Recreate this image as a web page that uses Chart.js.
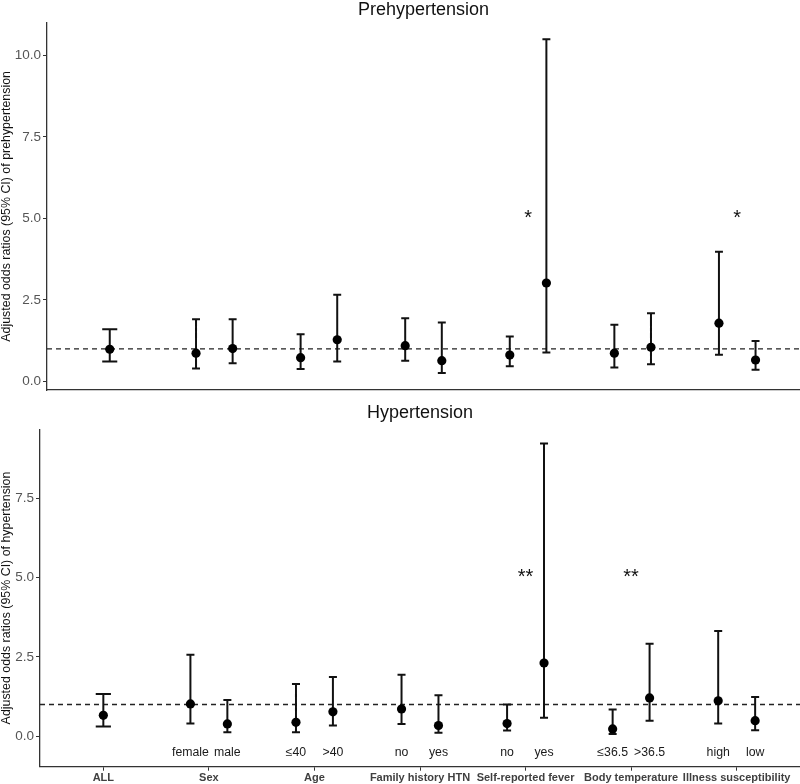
<!DOCTYPE html>
<html><head><meta charset="utf-8">
<script src="https://cdn.jsdelivr.net/npm/chart.js@4.4.1/dist/chart.umd.min.js"></script>
<style>
html,body{margin:0;padding:0;background:#fff;}
#wrap{position:relative;width:800px;height:784px;background:#fff;}
canvas{position:absolute;left:0;}
</style></head><body>
<div id="wrap">
<canvas id="c1" width="800" height="392" style="top:0px"></canvas>
<canvas id="c2" width="800" height="392" style="top:392px"></canvas>
</div>
<script>
// ---------- data ----------
const categories = ['ALL', 'Sex', 'Age', 'Family history HTN', 'Self-reported fever', 'Body temperature', 'Illness susceptibility'];
const groupIndex = [0, 1, 1, 2, 2, 3, 3, 4, 4, 5, 5, 6, 6];
const dodgeSide  = [0, -1, 1, -1, 1, -1, 1, -1, 1, -1, 1, -1, 1];
const subgroupLabels = ['', 'female', 'male', '≤40', '>40', 'no', 'yes', 'no', 'yes', '≤36.5', '>36.5', 'high', 'low'];

const preOR    = [0.99, 0.87, 1.01, 0.73, 1.28, 1.10, 0.64, 0.81, 3.02, 0.87, 1.05, 1.79, 0.66];
const preLower = [0.61, 0.40, 0.56, 0.38, 0.61, 0.64, 0.26, 0.47, 0.89, 0.43, 0.53, 0.82, 0.36];
const preUpper = [1.60, 1.91, 1.91, 1.45, 2.66, 1.94, 1.81, 1.38, 10.49, 1.74, 2.09, 3.98, 1.24];

const hypOR    = [0.66, 1.02, 0.39, 0.44, 0.77, 0.86, 0.34, 0.40, 2.31, 0.23, 1.21, 1.12, 0.49];
const hypLower = [0.31, 0.40, 0.13, 0.13, 0.34, 0.39, 0.11, 0.18, 0.58, 0.07, 0.49, 0.40, 0.19];
const hypUpper = [1.33, 2.57, 1.14, 1.65, 1.87, 1.94, 1.29, 1.00, 9.23, 0.84, 2.92, 3.32, 1.24];

const preStarGroups = [4, 6];
const preStarText   = ['*', '*'];
const hypStarGroups = [4, 5];
const hypStarText   = ['**', '**'];
const starValue = 5;
const subgroupLabelValue = -0.5;
const referenceOR = 1;

const yTicksPre = [0, 2.5, 5, 7.5, 10];
const yTicksHyp = [0, 2.5, 5, 7.5];

// ---------- helpers ----------
const DODGE = 0.175;
const FONT = "'Liberation Sans', Arial, Helvetica, sans-serif";
const xPos = i => groupIndex[i] + dodgeSide[i] * DODGE;
const capHalf = i => dodgeSide[i] === 0 ? 0.072 : 0.038;

function whiskerData(lower, upper) {
  const d = [];
  lower.forEach((lo, i) => {
    const x = xPos(i), hi = upper[i], h = capHalf(i);
    d.push({x: x, y: lo}, {x: x, y: hi}, {x: x, y: null});
    d.push({x: x - h, y: hi}, {x: x + h, y: hi}, {x: x, y: null});
    d.push({x: x - h, y: lo}, {x: x + h, y: lo}, {x: x, y: null});
  });
  return d;
}

const textPlugin = {
  id: 'textMarks',
  afterDatasetsDraw(chart, args, opts) {
    const {ctx} = chart;
    const xs = chart.scales.x, ys = chart.scales.y;
    ctx.save();
    (opts.items || []).forEach(it => {
      ctx.font = it.font;
      ctx.fillStyle = it.color;
      ctx.textAlign = 'center';
      ctx.textBaseline = 'middle';
      ctx.fillText(it.text, xs.getPixelForValue(it.x), ys.getPixelForValue(it.y));
    });
    ctx.restore();
  }
};

function makeChart(canvasId, cfg) {
  const items = [];
  cfg.starGroups.forEach((g, k) => items.push({x: g, y: starValue, text: cfg.starText[k], font: '20px ' + FONT, color: '#111'}));
  if (cfg.showSub) {
    subgroupLabels.forEach((t, i) => { if (t) items.push({x: xPos(i), y: subgroupLabelValue, text: t, font: '12.3px ' + FONT, color: '#1a1a1a'}); });
  }
  return new Chart(document.getElementById(canvasId), {
    type: 'scatter',
    data: {
      datasets: [
        {
          data: [{x: -0.6, y: referenceOR}, {x: 6.6, y: referenceOR}],
          showLine: true, borderColor: '#222', borderWidth: 1.4, borderDash: [5, 4],
          pointRadius: 0, order: 3
        },
        {
          data: whiskerData(cfg.lower, cfg.upper),
          showLine: true, spanGaps: false, borderColor: '#111', borderWidth: 2,
          pointRadius: 0, order: 2
        },
        {
          data: cfg.or.map((v, i) => ({x: xPos(i), y: v})),
          showLine: false, pointRadius: 4.6, pointBackgroundColor: '#000', pointBorderWidth: 0,
          pointBorderColor: '#000', order: 1
        }
      ]
    },
    options: {
      responsive: false, animation: false, devicePixelRatio: 1,
      events: [],
      layout: {padding: 0, autoPadding: false},
      plugins: {
        legend: {display: false},
        tooltip: {enabled: false},
        title: {
          display: true, text: cfg.title, fullSize: false, color: '#111',
          font: {family: FONT, size: 18, weight: 'normal', lineHeight: 0.9},
          padding: cfg.titlePad
        },
        textMarks: {items: items}
      },
      scales: {
        x: {
          type: 'linear', min: -0.6, max: 6.6,
          afterBuildTicks: s => { s.ticks = categories.map((c, i) => ({value: i})); },
          ticks: {
            display: cfg.showX, autoSkip: false, maxRotation: 0, minRotation: 0, padding: 1,
            callback: (v, idx) => categories[idx],
            color: '#404040', font: {family: FONT, size: 11, weight: 'bold'}
          },
          grid: {display: cfg.showX, drawOnChartArea: false, drawTicks: true, tickLength: 4, color: '#333', lineWidth: 1},
          border: {display: true, color: '#333', width: 1.3},
          afterFit: s => { s.height = cfg.xHeight; s.paddingLeft = 0; s.paddingRight = 0; }
        },
        y: {
          type: 'linear', min: cfg.yMin, max: cfg.yMax,
          afterBuildTicks: s => { s.ticks = cfg.yTicks.map(v => ({value: v})); },
          ticks: {
            padding: 2, color: '#555', font: {family: FONT, size: 13.5},
            callback: v => Number(v).toFixed(1)
          },
          grid: {drawOnChartArea: false, drawTicks: true, tickLength: 4, color: '#333', lineWidth: 1},
          border: {display: true, color: '#333', width: 1.3},
          title: {
            display: true, text: cfg.yTitle, color: '#111', padding: 0,
            font: {family: FONT, size: 12.4, lineHeight: 1}
          },
          afterFit: s => { s.width = cfg.yWidth; s.paddingTop = 0; s.paddingBottom = 0; }
        }
      }
    },
    plugins: [textPlugin]
  });
}

makeChart('c1', {
  title: 'Prehypertension', titlePad: {top: 1.5, bottom: 5},
  or: preOR, lower: preLower, upper: preUpper,
  starGroups: preStarGroups, starText: preStarText, showSub: false, showX: false,
  yMin: -0.26, yMax: 11.0, yTicks: yTicksPre, yWidth: 47, xHeight: 2,
  yTitle: 'Adjusted odds ratios (95% CI) of prehypertension'
});

makeChart('c2', {
  title: 'Hypertension', titlePad: {top: 13.3, bottom: 7.8},
  or: hypOR, lower: hypLower, upper: hypUpper,
  starGroups: hypStarGroups, starText: hypStarText, showSub: true, showX: true,
  yMin: -0.96, yMax: 9.68, yTicks: yTicksHyp, yWidth: 40, xHeight: 17.3,
  yTitle: 'Adjusted odds ratios (95% CI) of hypertension'
});
</script>
</body></html>
